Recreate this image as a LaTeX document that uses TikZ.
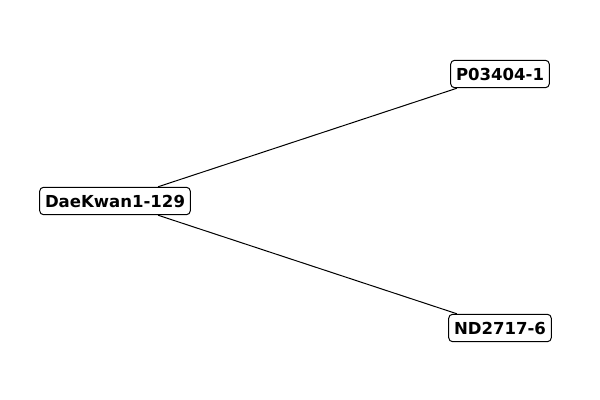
\documentclass[tikz,border=0pt]{standalone}
\usepackage{fontspec}
\setmainfont{DejaVu Sans}
\tikzset{
	strain/.style={draw, fill=white, rounded corners=3pt, inner xsep=4pt, inner ysep=5.6pt, line width=0.75pt, font=\bfseries\fontsize{12.4pt}{14pt}\selectfont},
	link/.style={line width=0.75pt}
}
\begin{document}
\begin{tikzpicture}[x=0.75pt,y=0.75pt]
		\useasboundingbox (0,0) rectangle (600,400);
		
		% Strains
		\node[strain] (dk) at (115,199) {DaeKwan1-129};
		\node[strain] (p03) at (500,326) {P03404-1};
		\node[strain] (nd) at (500,72) {ND2717-6};
		
		% Links
		\draw[link] (dk) -- (p03);
		\draw[link] (dk) -- (nd);
	\end{tikzpicture}
\end{document}
